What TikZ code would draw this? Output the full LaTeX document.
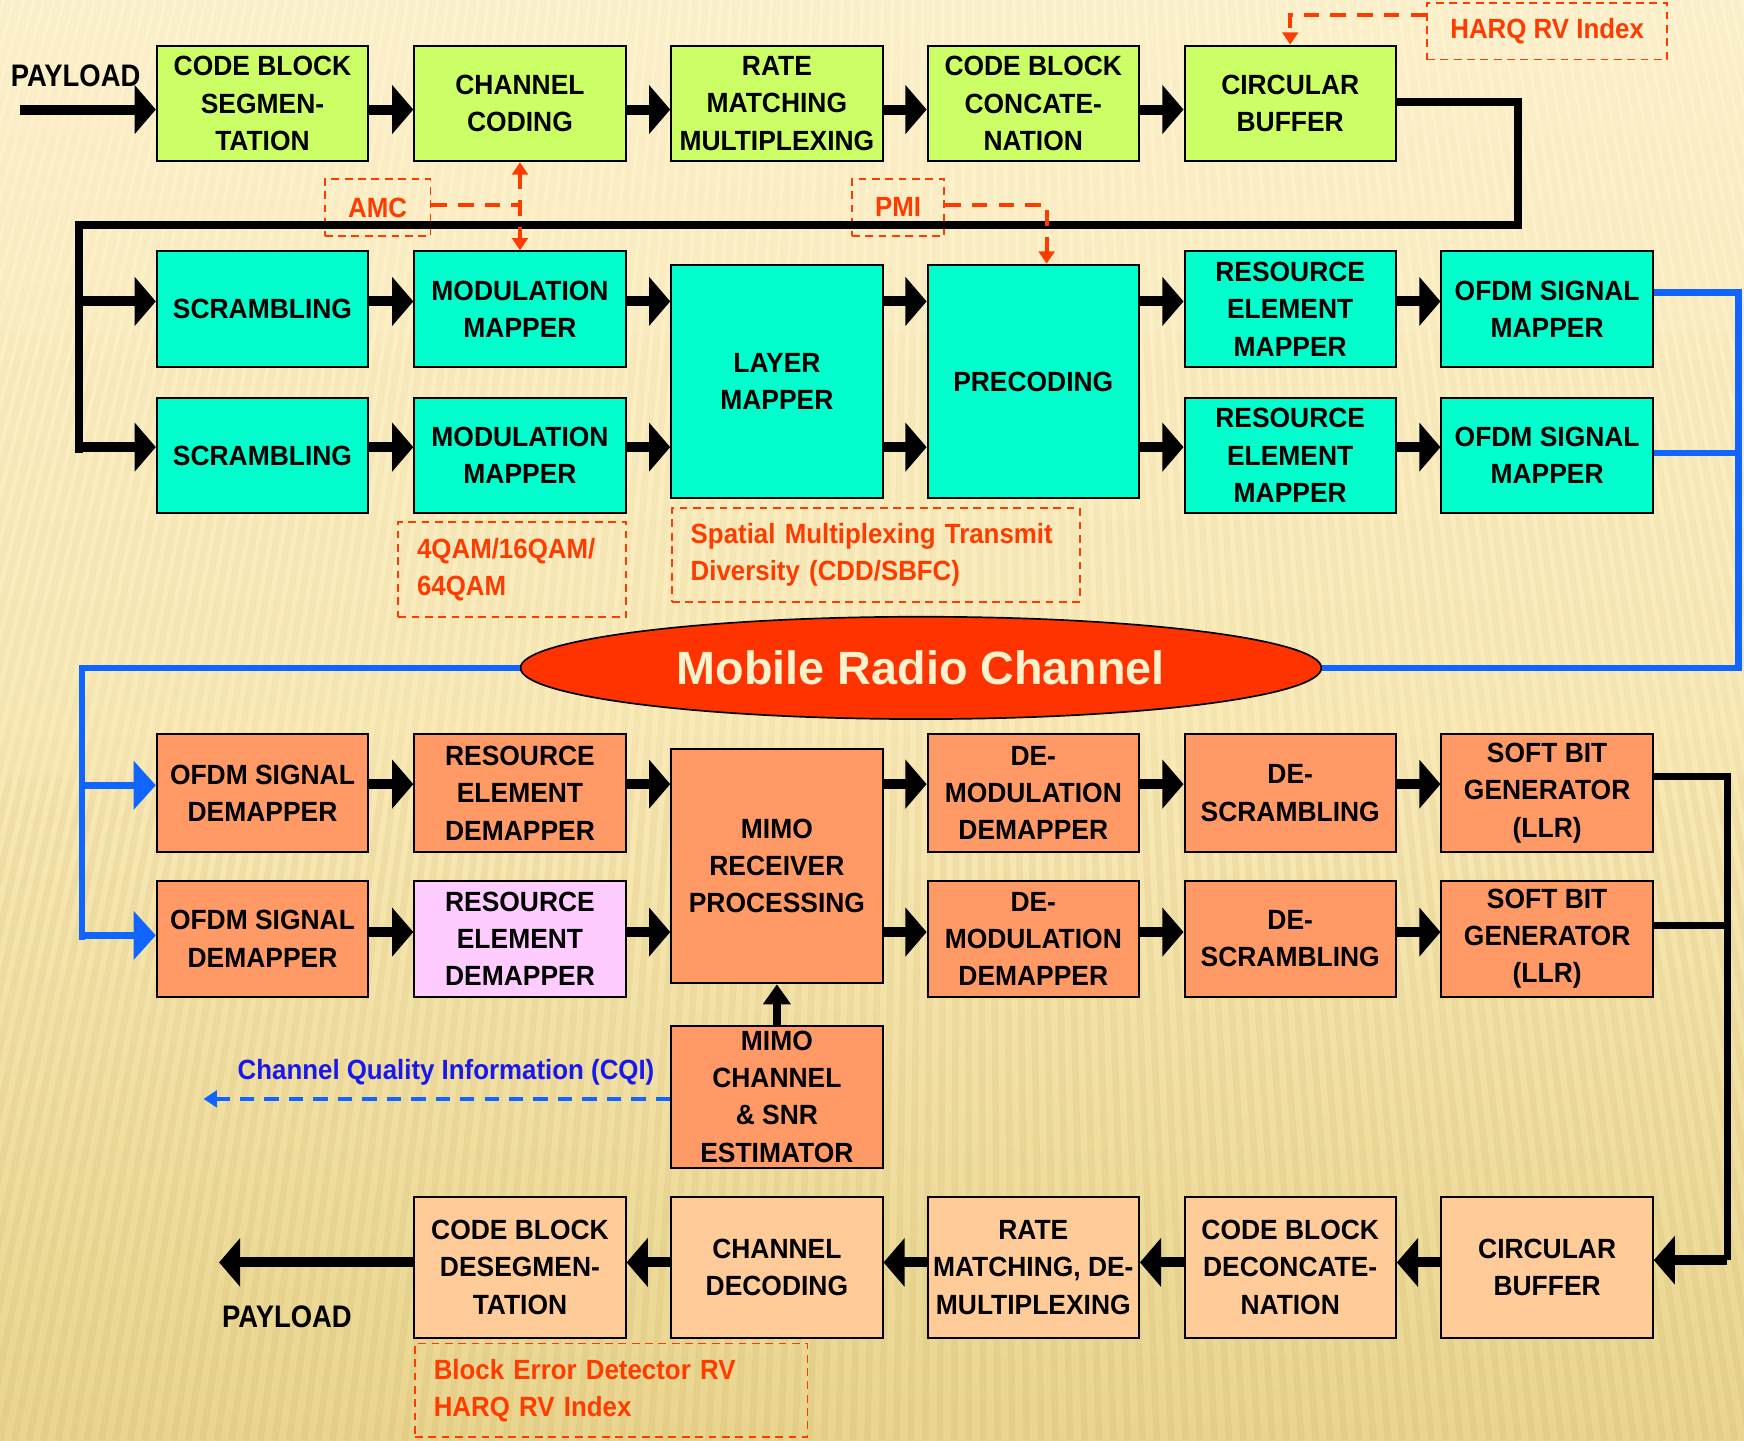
\documentclass[tikz,border=0pt]{standalone}
\usepackage{fontspec}
\setmainfont{Liberation Sans}
\newfontfamily\dfont{Liberation Sans}[FakeStretch=0.95]
\newfontfamily\nfont{Liberation Sans}[FakeStretch=0.93]
\newfontfamily\pfont{Liberation Sans}[FakeStretch=0.88]
\usetikzlibrary{arrows.meta,calc,shapes.geometric}

\definecolor{bgtop}{RGB}{254,243,208}
\definecolor{bgmid}{RGB}{249,234,184}
\definecolor{bgbot}{RGB}{233,213,142}
\definecolor{stripecol}{RGB}{185,150,70}
\definecolor{txgreen}{RGB}{204,255,102}
\definecolor{txcyan}{RGB}{0,255,204}
\definecolor{rxorange}{RGB}{255,153,102}
\definecolor{rxpink}{RGB}{255,204,255}
\definecolor{decpeach}{RGB}{255,204,153}
\definecolor{chanred}{RGB}{255,51,0}
\definecolor{chantext}{RGB}{255,242,204}
\definecolor{noteorange}{RGB}{255,60,0}
\definecolor{linkblue}{RGB}{16,100,255}
\definecolor{cqiblue}{RGB}{24,24,235}

\begin{document}
\begin{tikzpicture}[x=1pt,y=-1pt,
  blk/.style={draw=black, line width=1.8pt, minimum width=190pt, minimum height=104pt,
    inner sep=1pt, align=center, font={\dfont\bfseries\fontsize{25}{33.5}\selectfont}},
  green/.style={blk, fill=txgreen},
  cyan/.style={blk, fill=txcyan},
  orng/.style={blk, fill=rxorange},
  peach/.style={blk, fill=decpeach, minimum height=127pt},
  note/.style={draw=noteorange, line width=1.6pt, dash pattern=on 7pt off 5pt,
    text=noteorange, inner sep=0pt, font={\nfont\bfseries\fontsize{25}{33}\selectfont}},
  notel/.style={note, align=left, inner xsep=17pt},
  barrow/.style={line width=9pt, -{Triangle[length=19pt,width=43pt]}},
  trunk/.style={line width=7pt, line join=miter},
  bline/.style={linkblue, line width=5.5pt, line join=miter},
  barrowblue/.style={linkblue, line width=6pt, -{Triangle[length=20pt,width=43pt]}},
  odash/.style={noteorange, line width=3.5pt, dash pattern=on 14pt off 10pt},
  otip/.style={-{Triangle[length=11pt,width=14pt]}},
  cqiline/.style={linkblue, line width=3pt, dash pattern=on 13pt off 9pt,
    -{Triangle[length=12pt,width=15pt]}},
  uparrow/.style={line width=7pt, -{Triangle[length=18pt,width=24pt]}},
  payload/.style={font={\pfont\bfseries\fontsize{28}{30}\selectfont}, inner sep=0pt}
]
% ---- background -------------------------------------------------------
\useasboundingbox (0,0) rectangle (1568,1295);
\fill[top color=bgtop, bottom color=bgbot, middle color=bgmid] (0,0) rectangle (1568,1295);
\coordinate (focus) at (870,-3000);
\begin{scope}
  \clip (0,0) rectangle (1568,1295);
  \foreach \k in {-30,...,145} {
    \coordinate (sb) at (\k*13,1295);
    \draw[stripecol, line width=6pt, opacity=0.10] (sb) -- ($(sb)!0.1385!(focus)$);
    \draw[stripecol, line width=6pt, opacity=0.065] ($(sb)!0.1385!(focus)$) -- ($(sb)!0.2317!(focus)$);
    \draw[stripecol, line width=6pt, opacity=0.035] ($(sb)!0.2317!(focus)$) -- ($(sb)!0.3015!(focus)$);
  }
\end{scope}

% ---- transmitter: channel coding chain ---------------------------------
\node[green] (cbs) at (236,93)   {CODE BLOCK\\SEGMEN-\\TATION};
\node[green] (cc)  at (467.5,93) {CHANNEL\\CODING};
\node[green] (rm)  at (698.5,93) {RATE\\MATCHING\\MULTIPLEXING};
\node[green] (cbc) at (929,93)   {CODE BLOCK\\CONCATE-\\NATION};
\node[green] (cb)  at (1160,93)  {CIRCULAR\\BUFFER};

% ---- transmitter: modulation and MIMO mapping ---------------------------
\node[cyan] (scr1) at (236,278)    {SCRAMBLING};
\node[cyan] (mm1)  at (467.5,278)  {MODULATION\\MAPPER};
\node[cyan, minimum height=210pt] (lm)  at (698.5,343) {LAYER\\MAPPER};
\node[cyan, minimum height=210pt] (pre) at (929,343)   {PRECODING};
\node[cyan] (rem1) at (1160,278)   {RESOURCE\\ELEMENT\\MAPPER};
\node[cyan] (osm1) at (1391,278)   {OFDM SIGNAL\\MAPPER};
\node[cyan] (scr2) at (236,409.5)  {SCRAMBLING};
\node[cyan] (mm2)  at (467.5,409.5){MODULATION\\MAPPER};
\node[cyan] (rem2) at (1160,409.5) {RESOURCE\\ELEMENT\\MAPPER};
\node[cyan] (osm2) at (1391,409.5) {OFDM SIGNAL\\MAPPER};

% ---- channel ------------------------------------------------------------
\node[ellipse, draw=black, line width=1.5pt, fill=chanred, minimum width=720pt,
  minimum height=92pt, inner sep=0pt, text=chantext,
  font={\bfseries\fontsize{42}{44}\selectfont}] (mrc) at (828,600.5) {Mobile Radio Channel};

% ---- receiver -------------------------------------------------------------
\node[orng, minimum height=106pt] (odm1) at (236,713)   {OFDM SIGNAL\\DEMAPPER};
\node[orng, minimum height=106pt] (red1) at (467.5,713) {RESOURCE\\ELEMENT\\DEMAPPER};
\node[orng, minimum height=211pt] (mrx)  at (698.5,778.5) {MIMO\\RECEIVER\\PROCESSING};
\node[orng, minimum height=106pt] (dmd1) at (929,713)   {DE-\\MODULATION\\DEMAPPER};
\node[orng, minimum height=106pt] (dsc1) at (1160,713)  {DE-\\SCRAMBLING};
\node[orng, minimum height=106pt] (sbg1) at (1391,713)  {SOFT BIT\\GENERATOR\\(LLR)};
\node[orng] (odm2) at (236,844)   {OFDM SIGNAL\\DEMAPPER};
\node[blk, fill=rxpink] (red2) at (467.5,844) {RESOURCE\\ELEMENT\\DEMAPPER};
\node[orng] (dmd2) at (929,844)   {DE-\\MODULATION\\DEMAPPER};
\node[orng] (dsc2) at (1160,844)  {DE-\\SCRAMBLING};
\node[orng] (sbg2) at (1391,844)  {SOFT BIT\\GENERATOR\\(LLR)};
\node[orng, minimum height=128pt] (est) at (698.5,986) {MIMO\\CHANNEL\\\& SNR\\ESTIMATOR};

% ---- receiver: decoding chain ---------------------------------------------
\node[peach] (cbd)  at (467.5,1139.5) {CODE BLOCK\\DESEGMEN-\\TATION};
\node[peach] (cd)   at (698.5,1139.5) {CHANNEL\\DECODING};
\node[peach] (rmd)  at (929,1139.5)   {RATE\\MATCHING, DE-\\MULTIPLEXING};
\node[peach] (cbdc) at (1160,1139.5)  {CODE BLOCK\\DECONCATE-\\NATION};
\node[peach] (cb2)  at (1391,1139.5)  {CIRCULAR\\BUFFER};

% ---- annotations ------------------------------------------------------------
\node[note, minimum width=95pt, minimum height=51pt] (amc) at (339.5,186.5) {AMC};
\node[note, minimum width=83pt, minimum height=51pt] (pmi) at (807.5,186.5) {PMI};
\node[note, minimum width=216pt, minimum height=51pt] (harq) at (1391,28) {HARQ RV Index};
\node[notel, text width=171pt, minimum height=86pt] (qam) at (460.5,512) {4QAM/16QAM/\\64QAM};
\node[notel, text width=333pt, minimum height=84pt] (smt) at (787.5,499)
  {Spatial Multiplexing Transmit\\Diversity (CDD/SBFC)};
\node[notel, text width=319pt, minimum height=84pt] (bed) at (549.5,1250)
  {Block Error Detector RV\\HARQ RV Index};
\node[text=cqiblue, inner sep=0pt, font={\nfont\bfseries\fontsize{25}{30}\selectfont}] (cqi)
  at (401,964) {Channel Quality Information (CQI)};
\node[payload] (plin)  at (68,68)    {PAYLOAD};
\node[payload] (plout) at (258,1184) {PAYLOAD};

% ---- reference heights of the arrow rows -----------------------------------
\coordinate (y1) at (0,98.5);
\coordinate (y2) at (0,271);
\coordinate (y3) at (0,402);
\coordinate (y4) at (0,705);
\coordinate (y5) at (0,838);
\coordinate (y6) at (0,1135);

% ---- transmitter connectors ---------------------------------------------------
\coordinate (pin) at (18,98.5);
\draw[barrow] (pin) -- (cbs.west |- pin);
\draw[barrow] (cbs.east |- y1) -- (cc.west |- y1);
\draw[barrow] (cc.east |- y1) -- (rm.west |- y1);
\draw[barrow] (rm.east |- y1) -- (cbc.west |- y1);
\draw[barrow] (cbc.east |- y1) -- (cb.west |- y1);

\coordinate (k1) at (1365,92);
\coordinate (k2) at (1365,202);
\coordinate (k3) at (71,202);
\coordinate (k4) at (71,407);
\draw[trunk] (cb.east |- k1) -- (k1) -- (k2) -- (k3) -- (k4);
\coordinate (b1) at (71,271);
\coordinate (b2) at (71,402);
\draw[barrow] (b1) -- (scr1.west |- b1);
\draw[barrow] (b2) -- (scr2.west |- b2);

\draw[barrow] (scr1.east |- y2) -- (mm1.west |- y2);
\draw[barrow] (mm1.east |- y2) -- (lm.west |- y2);
\draw[barrow] (lm.east |- y2) -- (pre.west |- y2);
\draw[barrow] (pre.east |- y2) -- (rem1.west |- y2);
\draw[barrow] (rem1.east |- y2) -- (osm1.west |- y2);
\draw[barrow] (scr2.east |- y3) -- (mm2.west |- y3);
\draw[barrow] (mm2.east |- y3) -- (lm.west |- y3);
\draw[barrow] (lm.east |- y3) -- (pre.west |- y3);
\draw[barrow] (pre.east |- y3) -- (rem2.west |- y3);
\draw[barrow] (rem2.east |- y3) -- (osm2.west |- y3);

% ---- through the channel ----------------------------------------------------------
\coordinate (u1) at (1563,263);
\coordinate (u2) at (1563,407);
\coordinate (u3) at (1563,600.5);
\draw[bline] (osm1.east |- u1) -- (u1) -- (u3) -- (mrc.east);
\draw[bline] (osm2.east |- u2) -- (u2);
\coordinate (v1) at (74,600.5);
\coordinate (v2) at (74,845);
\coordinate (w1) at (74,706);
\coordinate (w2) at (74,841);
\draw[bline] (mrc.west) -- (v1) -- (v2);
\draw[barrowblue] (w1) -- (odm1.west |- w1);
\draw[barrowblue] (w2) -- (odm2.west |- w2);

% ---- receiver connectors ------------------------------------------------------------
\draw[barrow] (odm1.east |- y4) -- (red1.west |- y4);
\draw[barrow] (red1.east |- y4) -- (mrx.west |- y4);
\draw[barrow] (mrx.east |- y4) -- (dmd1.west |- y4);
\draw[barrow] (dmd1.east |- y4) -- (dsc1.west |- y4);
\draw[barrow] (dsc1.east |- y4) -- (sbg1.west |- y4);
\draw[barrow] (odm2.east |- y5) -- (red2.west |- y5);
\draw[barrow] (red2.east |- y5) -- (mrx.west |- y5);
\draw[barrow] (mrx.east |- y5) -- (dmd2.west |- y5);
\draw[barrow] (dmd2.east |- y5) -- (dsc2.west |- y5);
\draw[barrow] (dsc2.east |- y5) -- (sbg2.west |- y5);
\draw[uparrow] (est.north) -- (mrx.south);
\coordinate (cqiend) at (183,988);
\draw[cqiline] (est.west |- cqiend) -- (cqiend);

\coordinate (r1) at (1553,698);
\coordinate (r2) at (1553,832);
\coordinate (r3) at (1553,1133);
\draw[trunk, line width=6pt] (sbg1.east |- r1) -- (r1) -- (r3);
\draw[trunk, line width=6pt] (sbg2.east |- r2) -- (r2);
\draw[barrow] (r3) -- (cb2.east |- r3);

\draw[barrow] (cb2.west |- y6) -- (cbdc.east |- y6);
\draw[barrow] (cbdc.west |- y6) -- (rmd.east |- y6);
\draw[barrow] (rmd.west |- y6) -- (cd.east |- y6);
\draw[barrow] (cd.west |- y6) -- (cbd.east |- y6);
\coordinate (pout) at (197,1135);
\draw[barrow] (cbd.west |- pout) -- (pout);

% ---- control signalling -----------------------------------------------------------------
\coordinate (amcj) at (467.5,184);
\draw[odash] (amc.east |- amcj) -- (amcj);
\draw[odash, {Triangle[length=11pt,width=14pt]}-{Triangle[length=11pt,width=14pt]}] (cc.south) -- (mm1.north);
\coordinate (pmij) at (941,184);
\draw[odash, otip] (pmi.east |- pmij) -- (pmij) -- (pmij |- pre.north);
\coordinate (hj) at (1160,13.5);
\draw[odash, otip] (harq.west |- hj) -- (hj) -- (cb.north);
\end{tikzpicture}
\end{document}
